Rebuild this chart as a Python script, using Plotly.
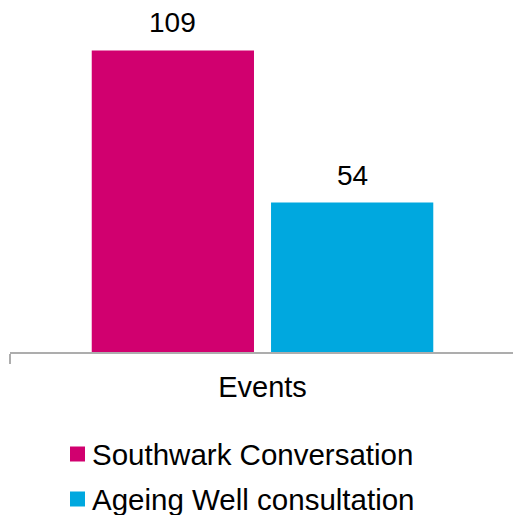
import plotly.graph_objects as go

# Event counts by programme
categories = ["Events"]
series_names = ["Southwark Conversation", "Ageing Well consultation"]
southwark_values = [109]
ageing_well_values = [54]
series_colors = ["#D1006F", "#00A8DF"]

FONT = "Liberation Sans, Arial, sans-serif"
W, H = 513, 515
M_L, M_R, M_T, M_B = 10, 0, 20, 163
BARGAP, GROUPGAP = 0.29, 0.095

all_values = [southwark_values, ageing_well_values]
n_series = len(all_values)

fig = go.Figure()
for name, vals, col in zip(series_names, all_values, series_colors):
    fig.add_trace(go.Bar(
        x=categories, y=vals, name=name,
        marker=dict(color=col, line=dict(width=0)),
        showlegend=False,
    ))

# value labels above each bar, placed at the bar's slot centre
slot = (1 - BARGAP) / n_series
annotations = []
for s, vals in enumerate(all_values):
    for i, v in enumerate(vals):
        annotations.append(dict(
            x=i - (1 - BARGAP) / 2 + slot * (s + 0.5), y=v,
            xref="x", yref="y", text=str(v), showarrow=False,
            yanchor="bottom", yshift=10,
            font=dict(family=FONT, size=28, color="#000000"),
        ))

# legend drawn below the axis: coloured square + label per series
plot_w = W - M_L - M_R
plot_h = H - M_T - M_B
def px_x(p):
    return (p - M_L) / plot_w
def px_y(p):
    return (H - M_B - p) / plot_h

shapes = []
row_centres = [454, 499]
for name, col, yc in zip(series_names, series_colors, row_centres):
    shapes.append(dict(
        type="rect", xref="paper", yref="paper",
        x0=px_x(70), x1=px_x(85), y0=px_y(yc + 7.5), y1=px_y(yc - 7.5),
        fillcolor=col, line=dict(width=0),
    ))
    annotations.append(dict(
        x=px_x(90), y=px_y(yc), xref="paper", yref="paper",
        text=name, showarrow=False, xanchor="left", yanchor="middle",
        font=dict(family=FONT, size=29.5, color="#000000"),
    ))

fig.update_layout(
    width=W, height=H,
    margin=dict(l=M_L, r=M_R, t=M_T, b=M_B),
    paper_bgcolor="white", plot_bgcolor="white",
    barmode="group", bargap=BARGAP, bargroupgap=GROUPGAP,
    font=dict(family=FONT, size=28, color="#000000"),
    showlegend=False,
    annotations=annotations, shapes=shapes,
)
fig.update_xaxes(
    range=[-0.5, 0.496],
    showline=True, linecolor="#ADADAD", linewidth=1.5,
    ticks="outside", tickson="boundaries", ticklen=10, tickcolor="#ADADAD", tickwidth=1.5,
    tickfont=dict(family=FONT, size=29, color="#000000"),
    ticklabelstandoff=8,
    showgrid=False,
)
fig.update_yaxes(range=[0, 120], visible=False, showgrid=False)

fig.write_html("out.html")
